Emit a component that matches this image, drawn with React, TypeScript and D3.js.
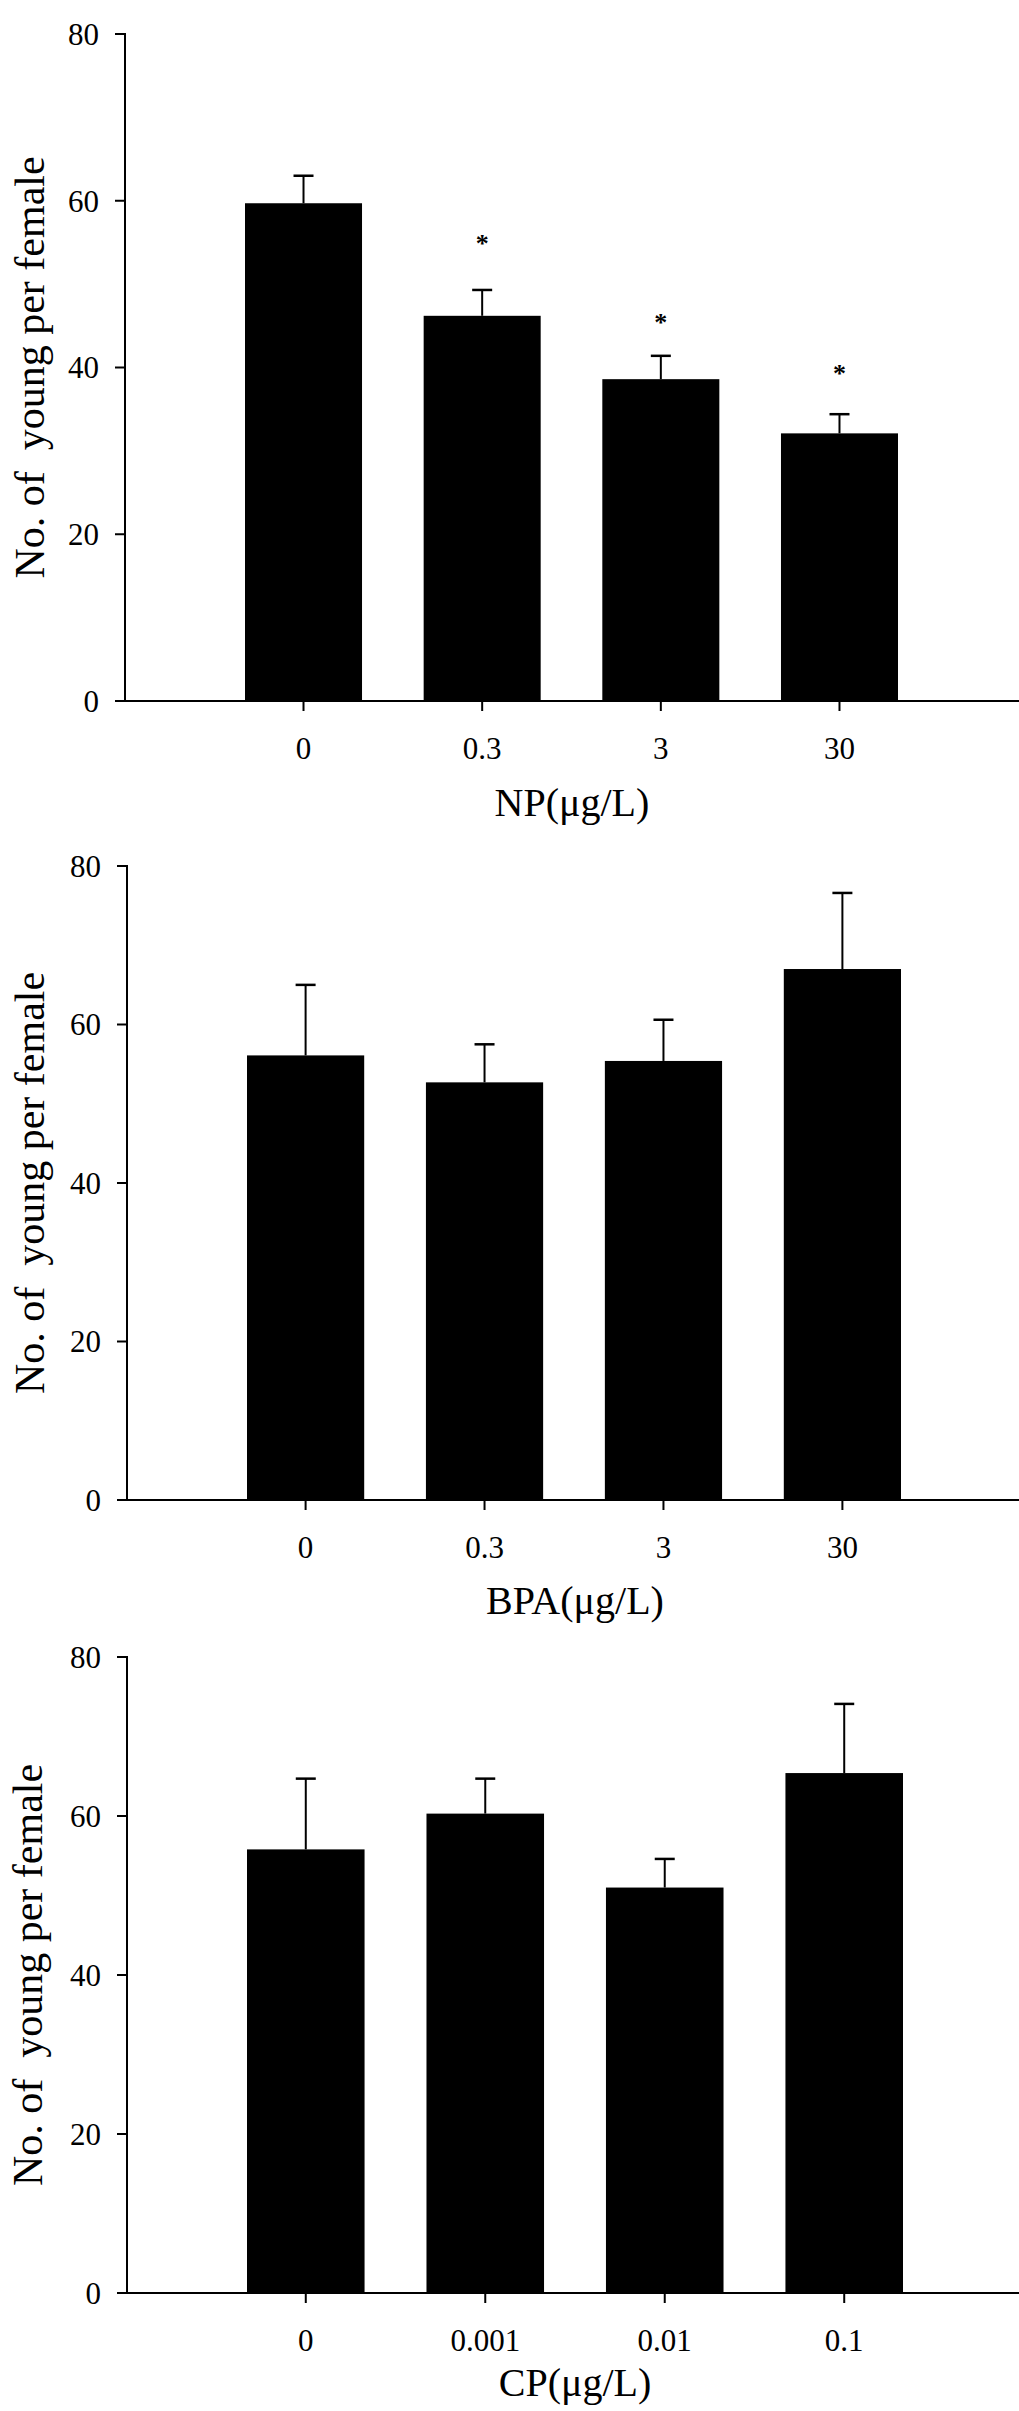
import React from "react";
import * as d3 from "d3";

// ---- data ----
const npCategories = ["0", "0.3", "3", "30"];
const npMeans = [59.7, 46.2, 38.6, 32.1];
const npErrTop = [63.0, 49.3, 41.4, 34.4];
const npStars = [null, 55.1, 45.6, 39.5];

const bpaCategories = ["0", "0.3", "3", "30"];
const bpaMeans = [56.1, 52.7, 55.4, 67.0];
const bpaErrTop = [65.0, 57.5, 60.6, 76.6];

const cpCategories = ["0", "0.001", "0.01", "0.1"];
const cpMeans = [55.8, 60.3, 51.0, 65.4];
const cpErrTop = [64.7, 64.7, 54.6, 74.1];

const yTicks = [0, 20, 40, 60, 80];
const yLabel = "No. of  young per female";
const xTitles = ["NP(\u03bcg/L)", "BPA(\u03bcg/L)", "CP(\u03bcg/L)"];

// ---- layout (pixels) ----
const W = 1019;
const H = 2411;
const FONT = "'Liberation Serif', 'Times New Roman', serif";

type PanelCfg = {
  cats: string[];
  means: number[];
  errs: number[];
  stars?: (number | null)[];
  title: string;
  axisX: number;
  y80: number;
  y0: number;
  bandLeft: number;
  bandRight: number;
  labelX: number;
  titleX: number;
  titleDy: number;
};

const panels: PanelCfg[] = [
  { cats: npCategories, means: npMeans, errs: npErrTop, stars: npStars, title: xTitles[0],
    axisX: 125, y80: 34, y0: 701, bandLeft: 245, bandRight: 898, labelX: 44, titleX: 572, titleDy: 115 },
  { cats: bpaCategories, means: bpaMeans, errs: bpaErrTop, title: xTitles[1],
    axisX: 127, y80: 866, y0: 1500, bandLeft: 247, bandRight: 901, labelX: 44, titleX: 575, titleDy: 114 },
  { cats: cpCategories, means: cpMeans, errs: cpErrTop, title: xTitles[2],
    axisX: 127, y80: 1657, y0: 2293, bandLeft: 247, bandRight: 903, labelX: 42, titleX: 575, titleDy: 103 },
];

function Panel({ p }: { p: PanelCfg }) {
  const y = d3.scaleLinear().domain([0, 80]).range([p.y0, p.y80]);
  const x = d3
    .scaleBand<string>()
    .domain(p.cats)
    .range([p.bandLeft, p.bandRight])
    .paddingInner(0.345)
    .paddingOuter(0);
  const bw = x.bandwidth();
  const cap = 10;
  return (
    <g>
      {/* bars */}
      {p.cats.map((c, i) => (
        <rect key={"b" + i} x={x(c)} y={y(p.means[i])} width={bw} height={y(0) - y(p.means[i])} fill="#000" />
      ))}
      {/* error bars */}
      {p.cats.map((c, i) => {
        const cx = (x(c) as number) + bw / 2;
        return (
          <g key={"e" + i} stroke="#000" strokeWidth={2}>
            <line x1={cx} x2={cx} y1={y(p.means[i])} y2={y(p.errs[i])} />
            <line x1={cx - cap} x2={cx + cap} y1={y(p.errs[i])} y2={y(p.errs[i])} strokeWidth={2.5} />
          </g>
        );
      })}
      {/* significance stars */}
      {p.stars &&
        p.cats.map((c, i) =>
          p.stars![i] == null ? null : (
            <text key={"s" + i} x={(x(c) as number) + bw / 2} y={y(p.stars![i] as number) + 10}
              textAnchor="middle" fontFamily={FONT} fontSize={26} fontWeight="bold">*</text>
          )
        )}
      {/* y axis */}
      <line x1={p.axisX} x2={p.axisX} y1={y(80) - 1} y2={y(0) + 1} stroke="#000" strokeWidth={2} />
      {yTicks.map((t) => (
        <g key={"yt" + t}>
          <line x1={p.axisX - 10} x2={p.axisX} y1={y(t)} y2={y(t)} stroke="#000" strokeWidth={2} />
          <text x={p.axisX - 26} y={y(t)} dy="0.35em" textAnchor="end" fontFamily={FONT} fontSize={31}>{t}</text>
        </g>
      ))}
      {/* x axis */}
      <line x1={p.axisX - 10} x2={W} y1={y(0)} y2={y(0)} stroke="#000" strokeWidth={2} />
      {p.cats.map((c) => {
        const cx = (x(c) as number) + bw / 2;
        return (
          <g key={"xt" + c}>
            <line x1={cx} x2={cx} y1={y(0)} y2={y(0) + 10} stroke="#000" strokeWidth={2} />
            <text x={cx} y={y(0) + 58} textAnchor="middle" fontFamily={FONT} fontSize={31}>{c}</text>
          </g>
        );
      })}
      {/* titles */}
      <text x={p.titleX} y={y(0) + p.titleDy} textAnchor="middle" fontFamily={FONT} fontSize={40}>{p.title}</text>
      <text transform={`translate(${p.labelX},${(p.y0 + p.y80) / 2}) rotate(-90)`} textAnchor="middle"
        fontFamily={FONT} fontSize={42} xmlSpace="preserve" style={{ whiteSpace: "pre" }}>{yLabel}</text>
    </g>
  );
}

export default function App() {
  return (
    <svg width={W} height={H} viewBox={`0 0 ${W} ${H}`}
      style={{ position: "absolute", left: 0, top: 0, background: "#fff" }}>
      <rect x={0} y={0} width={W} height={H} fill="#fff" />
      {panels.map((p, i) => (
        <Panel key={i} p={p} />
      ))}
    </svg>
  );
}
